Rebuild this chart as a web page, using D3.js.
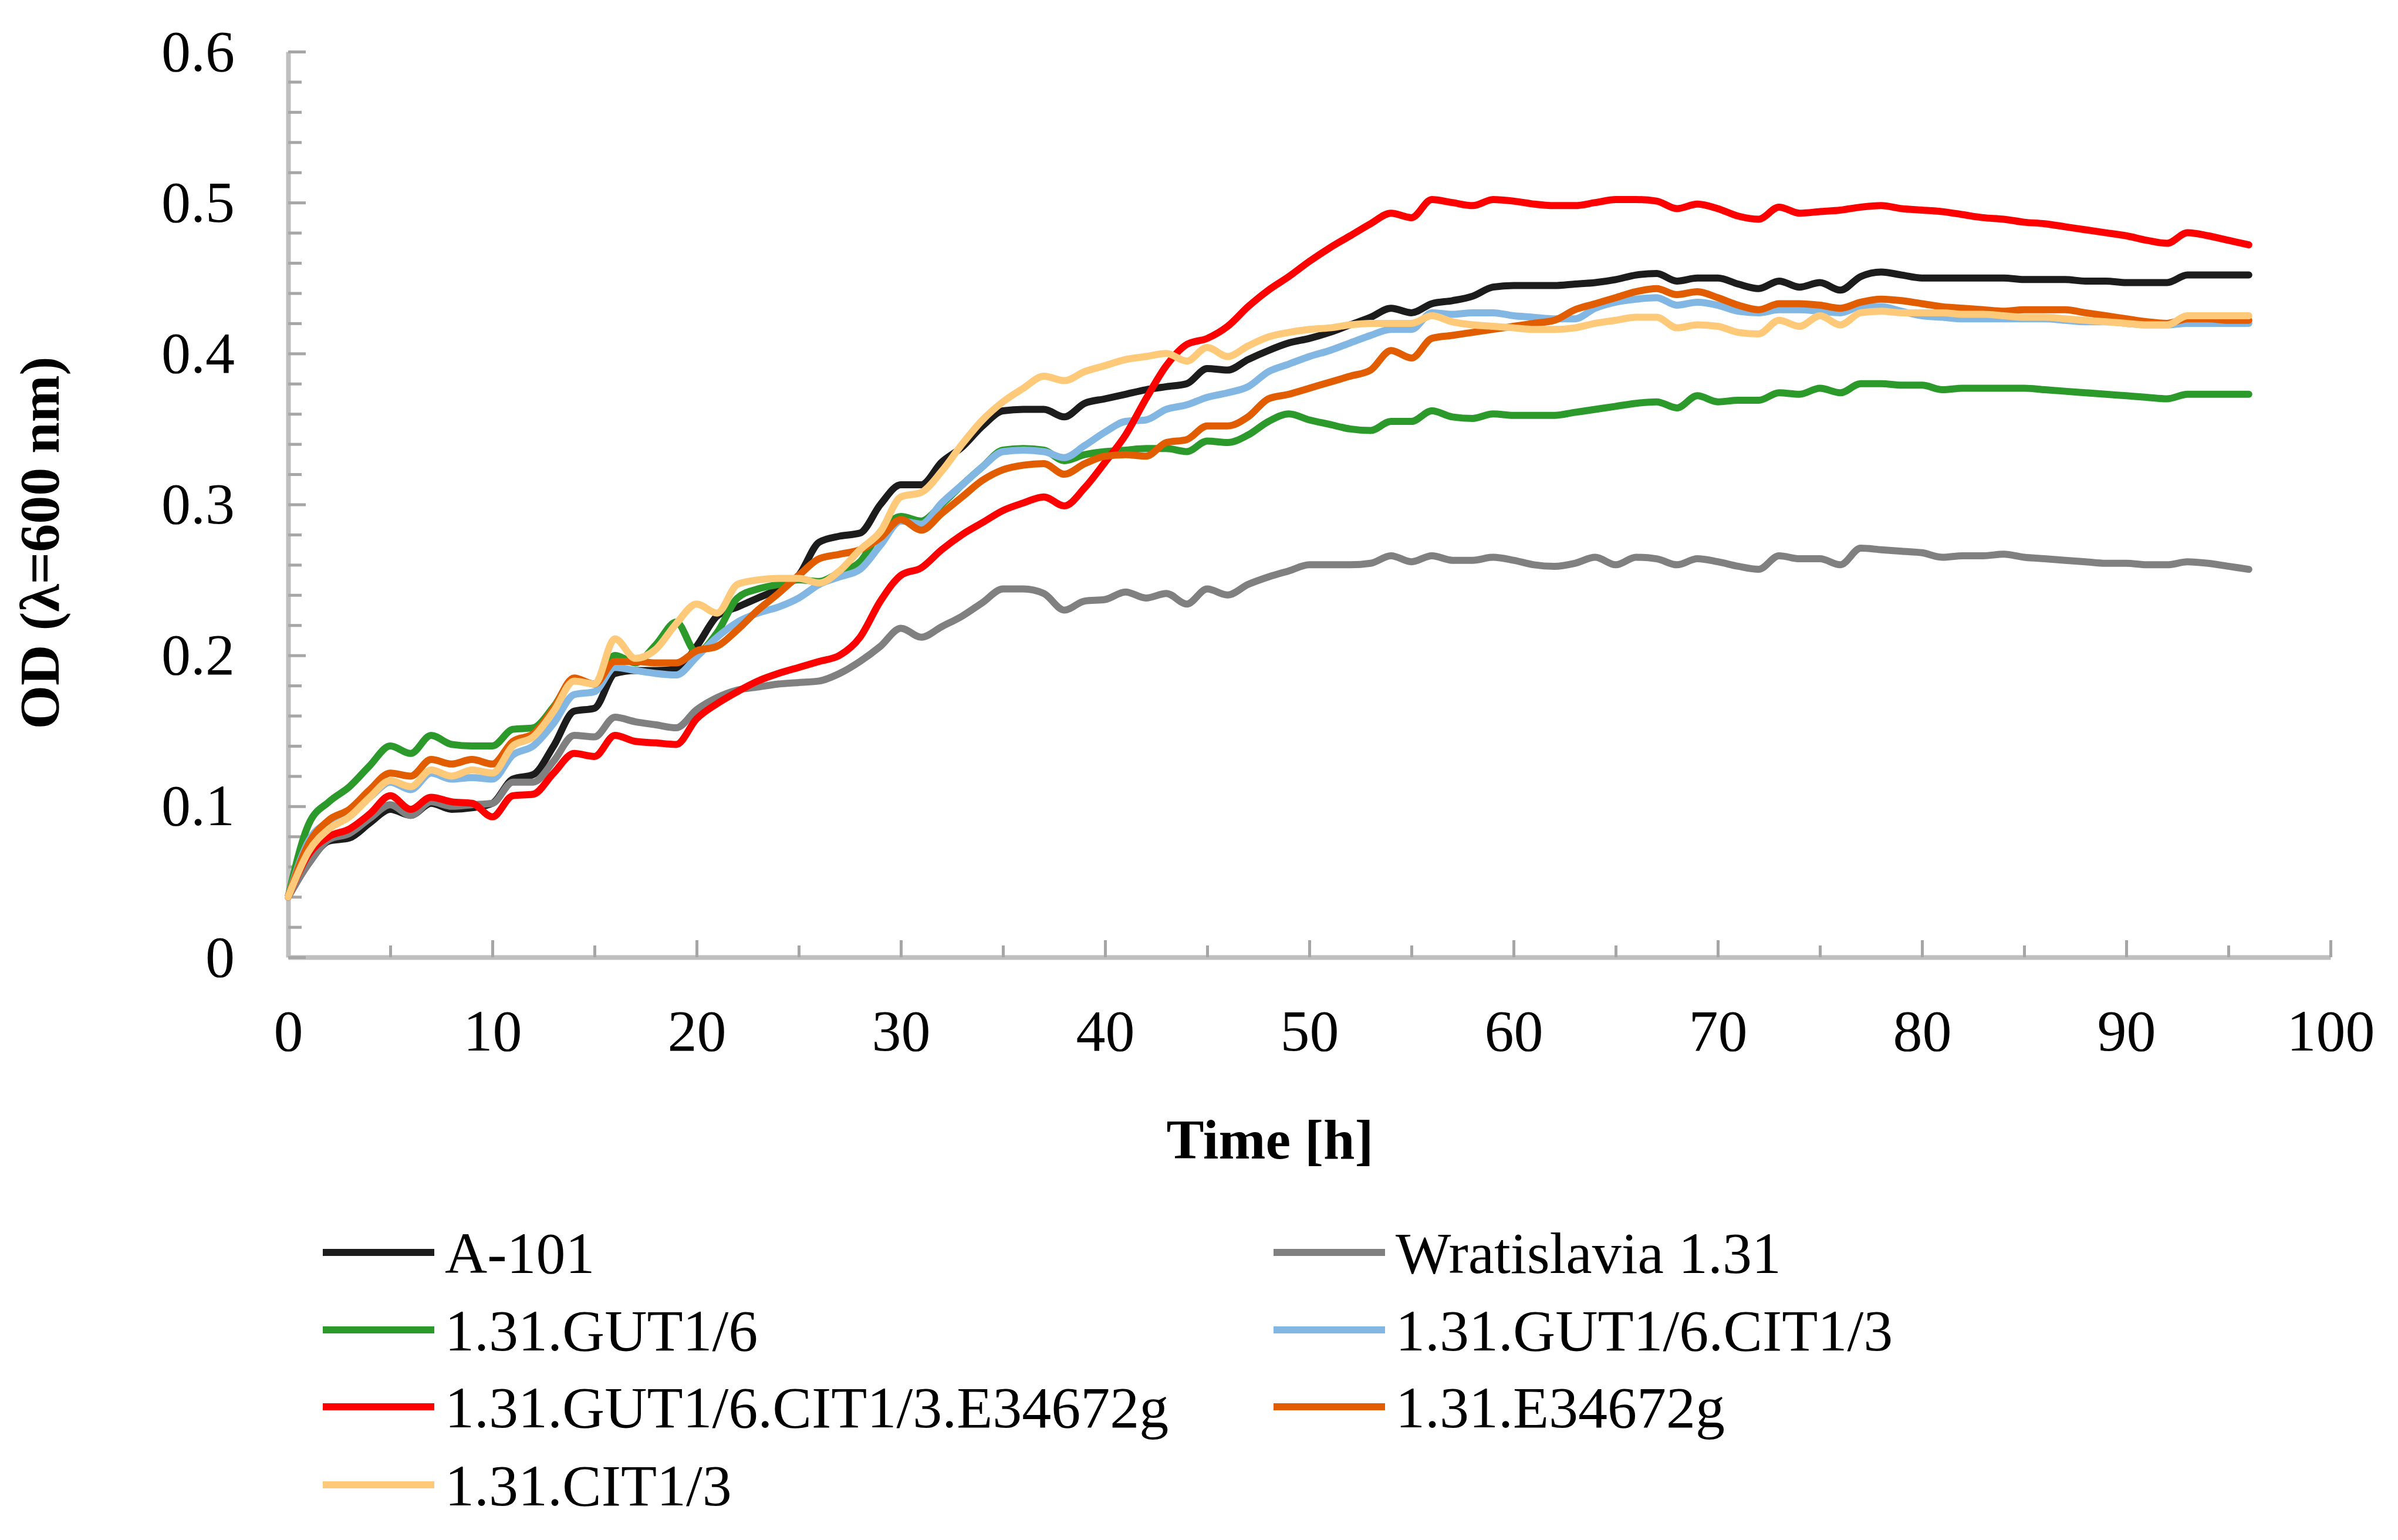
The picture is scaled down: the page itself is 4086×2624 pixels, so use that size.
<!DOCTYPE html>
<html lang="en">
<head>
<meta charset="UTF-8">
<title>OD growth curves</title>
<script src="https://d3js.org/d3.v7.min.js"></script>
<style>
    body { margin: 0; background: #fff; }
    text { font-family: "Liberation Serif", "Times New Roman", serif; fill: #000; }
</style>
</head>
<body>
<div id="chart"></div>
<script>
    /* ---------- data ---------- */
    // sampling times [h]
    const hours = [0,1,2,3,4,5,6,7,8,9,10,11,12,13,14,15,16,17,18,19,20,21,22,23,24,25,26,27,28,29,30,
        31,32,33,34,35,36,37,38,39,40,41,42,43,44,45,46,47,48,49,50,51,52,53,54,55,56,57,58,59,60,
        61,62,63,64,65,66,67,68,69,70,71,72,73,74,75,76,77,78,79,80,81,82,83,84,85,86,87,88,89,90,
        91,92,93,94,95,96];

    const a101 = [0.040,0.062,0.077,0.079,0.089,0.098,0.094,0.102,0.098,0.099,0.102,0.118,0.121,0.140,0.163,0.165,
        0.188,0.190,0.190,0.191,0.206,0.226,0.232,0.238,0.244,0.253,0.275,0.279,0.281,0.300,0.313,
        0.313,0.328,0.338,0.352,0.362,0.363,0.363,0.358,0.367,0.370,0.373,0.376,0.378,0.380,0.390,
        0.389,0.396,0.402,0.407,0.410,0.414,0.419,0.424,0.430,0.427,0.433,0.435,0.438,0.444,0.445,
        0.445,0.445,0.446,0.447,0.449,0.452,0.453,0.448,0.450,0.450,0.446,0.443,0.448,0.444,0.447,
        0.442,0.451,0.454,0.452,0.450,0.450,0.450,0.450,0.450,0.449,0.449,0.449,0.448,0.448,0.447,
        0.447,0.447,0.452,0.452,0.452,0.452];

    const wratislavia = [0.040,0.062,0.078,0.082,0.092,0.101,0.094,0.103,0.100,0.101,0.102,0.116,0.116,0.130,0.147,0.146,
        0.159,0.156,0.154,0.152,0.164,0.172,0.177,0.179,0.181,0.182,0.183,0.188,0.196,0.206,0.218,
        0.212,0.219,0.226,0.235,0.244,0.244,0.241,0.230,0.236,0.237,0.242,0.238,0.241,0.234,0.244,
        0.240,0.247,0.252,0.256,0.260,0.260,0.260,0.261,0.266,0.262,0.266,0.263,0.263,0.265,0.263,
        0.260,0.259,0.261,0.265,0.260,0.265,0.264,0.260,0.264,0.262,0.259,0.257,0.266,0.264,0.264,
        0.260,0.271,0.270,0.269,0.268,0.265,0.266,0.266,0.267,0.265,0.264,0.263,0.262,0.261,0.261,
        0.260,0.260,0.262,0.261,0.259,0.257];

    const gut16 = [0.040,0.088,0.103,0.113,0.127,0.140,0.135,0.147,0.141,0.140,0.140,0.151,0.152,0.166,0.184,0.181,
        0.200,0.195,0.207,0.222,0.202,0.215,0.238,0.244,0.247,0.250,0.249,0.255,0.262,0.282,0.292,
        0.289,0.300,0.313,0.325,0.336,0.337,0.336,0.329,0.333,0.335,0.336,0.337,0.337,0.335,0.342,
        0.341,0.346,0.355,0.360,0.356,0.353,0.350,0.349,0.355,0.355,0.362,0.358,0.357,0.360,0.359,
        0.359,0.359,0.361,0.363,0.365,0.367,0.368,0.364,0.372,0.368,0.369,0.369,0.374,0.373,0.377,
        0.374,0.380,0.380,0.379,0.379,0.376,0.377,0.377,0.377,0.377,0.376,0.375,0.374,0.373,0.372,
        0.371,0.370,0.373,0.373,0.373,0.373];

    const gut16cit13 = [0.040,0.077,0.090,0.097,0.106,0.116,0.111,0.122,0.118,0.119,0.118,0.134,0.140,0.155,0.174,0.176,
        0.192,0.190,0.188,0.187,0.199,0.212,0.222,0.228,0.232,0.238,0.247,0.252,0.257,0.273,0.289,
        0.287,0.301,0.313,0.325,0.335,0.336,0.335,0.331,0.339,0.348,0.355,0.356,0.363,0.366,0.371,
        0.374,0.378,0.388,0.393,0.398,0.402,0.407,0.412,0.416,0.416,0.427,0.426,0.427,0.427,0.425,
        0.424,0.423,0.423,0.430,0.434,0.436,0.437,0.432,0.434,0.432,0.428,0.427,0.429,0.429,0.428,
        0.427,0.431,0.431,0.428,0.425,0.424,0.423,0.423,0.423,0.423,0.423,0.422,0.421,0.421,0.420,
        0.419,0.419,0.420,0.420,0.420,0.420];

    const gut16cit13e = [0.040,0.068,0.080,0.085,0.095,0.107,0.098,0.106,0.103,0.102,0.093,0.107,0.108,0.122,0.135,0.133,
        0.147,0.143,0.142,0.141,0.158,0.168,0.176,0.183,0.188,0.192,0.196,0.200,0.212,0.236,0.253,
        0.258,0.270,0.280,0.288,0.296,0.301,0.305,0.299,0.311,0.328,0.346,0.370,0.392,0.406,0.410,
        0.418,0.431,0.442,0.451,0.461,0.470,0.478,0.486,0.493,0.490,0.502,0.500,0.498,0.502,0.501,
        0.499,0.498,0.498,0.500,0.502,0.502,0.501,0.496,0.499,0.496,0.491,0.489,0.497,0.493,0.494,
        0.495,0.497,0.498,0.496,0.495,0.494,0.492,0.490,0.489,0.487,0.486,0.484,0.482,0.480,0.478,
        0.475,0.473,0.480,0.478,0.475,0.472];

    const e34672g = [0.040,0.075,0.091,0.098,0.111,0.122,0.120,0.131,0.128,0.131,0.128,0.143,0.148,0.165,0.185,0.181,
        0.196,0.196,0.195,0.195,0.203,0.206,0.217,0.230,0.241,0.253,0.264,0.267,0.270,0.278,0.290,
        0.283,0.294,0.305,0.316,0.323,0.326,0.327,0.320,0.327,0.332,0.333,0.332,0.341,0.343,0.352,
        0.352,0.358,0.370,0.373,0.377,0.381,0.385,0.389,0.402,0.397,0.410,0.412,0.414,0.416,0.418,
        0.420,0.422,0.429,0.433,0.437,0.441,0.443,0.439,0.441,0.437,0.432,0.429,0.433,0.433,0.432,
        0.430,0.434,0.436,0.435,0.433,0.431,0.430,0.429,0.428,0.429,0.429,0.429,0.427,0.425,0.423,
        0.421,0.420,0.423,0.423,0.422,0.422];

    const cit13 = [0.040,0.070,0.085,0.093,0.106,0.117,0.113,0.124,0.120,0.124,0.122,0.140,0.146,0.163,0.183,0.181,
        0.211,0.198,0.204,0.221,0.234,0.228,0.247,0.250,0.251,0.251,0.248,0.256,0.270,0.282,0.305,
        0.308,0.322,0.340,0.356,0.368,0.377,0.385,0.382,0.388,0.392,0.396,0.398,0.400,0.395,0.404,
        0.398,0.405,0.411,0.414,0.416,0.417,0.419,0.420,0.420,0.420,0.425,0.421,0.419,0.418,0.417,
        0.416,0.416,0.417,0.420,0.422,0.424,0.424,0.417,0.419,0.418,0.414,0.413,0.422,0.418,0.425,
        0.419,0.427,0.428,0.427,0.427,0.427,0.426,0.426,0.425,0.424,0.424,0.423,0.422,0.421,0.420,
        0.419,0.419,0.425,0.425,0.425,0.425];

    const seriesNames = ["A-101", "Wratislavia 1.31", "1.31.GUT1/6", "1.31.GUT1/6.CIT1/3",
        "1.31.GUT1/6.CIT1/3.E34672g", "1.31.E34672g", "1.31.CIT1/3"];
    const seriesValues = [a101, wratislavia, gut16, gut16cit13, gut16cit13e, e34672g, cit13];
    const seriesColors = ["#1c1c1c", "#808080", "#2b9a2b", "#82b7e4", "#ff0000", "#e25c00", "#fec979"];

    const xTickLabels = [0, 10, 20, 30, 40, 50, 60, 70, 80, 90, 100];
    const yTickLabels = [0, 0.1, 0.2, 0.3, 0.4, 0.5, 0.6];

    /* ---------- layout ---------- */
    const W = 4086, H = 2624;
    const plot = { left: 491, right: 3971, top: 88, bottom: 1631 };

    const svg = d3.select("#chart").append("svg")
        .attr("width", W)
        .attr("height", H)
        .style("background", "#fff");

    const x = d3.scaleLinear().domain([0, 100]).range([plot.left, plot.right]);
    const y = d3.scaleLinear().domain([0, 0.6]).range([plot.bottom, plot.top]);

    const isLabel = (v, step) => Math.abs(v / step - Math.round(v / step)) < 1e-6;

    /* ---------- axes ---------- */
    const xMinor = d3.range(0, 101, 5);
    const yMinor = d3.range(0, 31).map(i => +(i * 0.02).toFixed(2));

    const xAxis = svg.append("g")
        .attr("transform", `translate(0,${plot.bottom})`)
        .call(d3.axisBottom(x)
            .tickValues(xMinor)
            .tickSizeInner(-20)
            .tickSizeOuter(0)
            .tickPadding(88)
            .tickFormat(d => xTickLabels.includes(d) ? d : ""));

    const yAxis = svg.append("g")
        .attr("transform", `translate(${plot.left},0)`)
        .call(d3.axisLeft(y)
            .tickValues(yMinor)
            .tickSizeInner(-23)
            .tickSizeOuter(0)
            .tickPadding(91)
            .tickFormat(d => yTickLabels.some(v => Math.abs(v - d) < 1e-6) ? String(+d.toFixed(1)) : ""));

    [xAxis, yAxis].forEach(g => {
        g.select(".domain").attr("stroke", "#bfbfbf").attr("stroke-width", 8);
        g.selectAll(".tick line").attr("stroke", "#a6a6a6").attr("stroke-width", 5);
        g.selectAll(".tick text")
            .attr("font-family", "'Liberation Serif', 'Times New Roman', serif")
            .attr("font-size", 100)
            .attr("fill", "#000");
    });
    // longer marks at the labelled ticks
    xAxis.selectAll(".tick line").filter(d => isLabel(d, 10)).attr("y2", -29);
    yAxis.selectAll(".tick line").filter(d => isLabel(d, 0.1)).attr("x2", 30);

    /* ---------- axis titles ---------- */
    svg.append("text")
        .attr("x", 2164)
        .attr("y", 1974)
        .attr("text-anchor", "middle")
        .attr("font-size", 96)
        .attr("font-weight", "bold")
        .text("Time [h]");

    svg.append("text")
        .attr("transform", "translate(100,925) rotate(-90)")
        .attr("text-anchor", "middle")
        .attr("font-size", 96)
        .attr("font-weight", "bold")
        .text("OD (λ=600 nm)");

    /* ---------- lines ---------- */
    const line = d3.line()
        .x((d, i) => x(hours[i]))
        .y(d => y(d))
        .curve(d3.curveMonotoneX);

    svg.append("g")
        .selectAll("path")
        .data(seriesValues)
        .enter()
        .append("path")
        .attr("d", d => line(d))
        .attr("fill", "none")
        .attr("stroke", (d, i) => seriesColors[i])
        .attr("stroke-width", 12)
        .attr("stroke-linejoin", "round")
        .attr("stroke-linecap", "round");

    /* ---------- legend (2 columns, row-major) ---------- */
    const legendCols = [550, 2170];
    const legendRows = [2134, 2266, 2397, 2530];
    const legend = svg.append("g")
        .selectAll("g")
        .data(seriesNames)
        .enter()
        .append("g")
        .attr("transform", (d, i) => `translate(${legendCols[i % 2]},${legendRows[Math.floor(i / 2)]})`);

    legend.append("line")
        .attr("x1", 0)
        .attr("x2", 190)
        .attr("stroke", (d, i) => seriesColors[i])
        .attr("stroke-width", 12);

    legend.append("text")
        .attr("x", 208)
        .attr("y", 35)
        .attr("font-size", 100)
        .text(d => d);
</script>
</body>
</html>
